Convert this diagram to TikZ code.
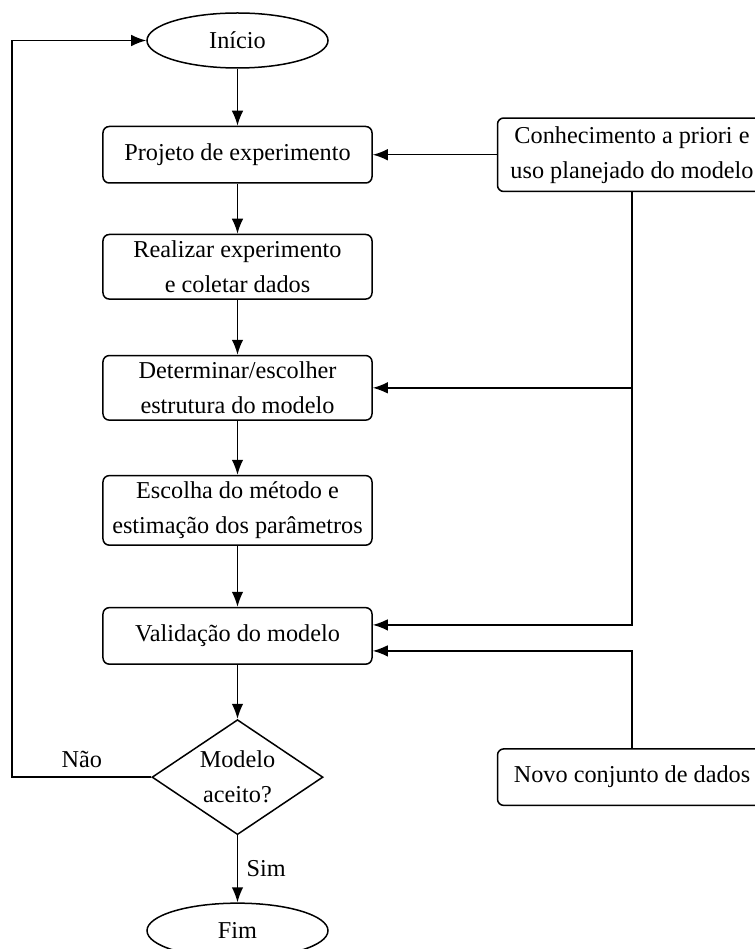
\documentclass[tikz,border=0pt]{standalone}
\usepackage{fontspec}
\setmainfont{Liberation Serif}
\usetikzlibrary{arrows.meta,positioning,shapes.geometric}

\begin{document}
\begin{tikzpicture}[
            font=\fontsize{9.7pt}{14pt}\selectfont,
            >={Latex[length=6pt,width=4.6pt]},
            every path/.style={semithick},
            etapa/.style={draw,rectangle,rounded corners=2.5pt,align=center,minimum width=107.6pt,minimum height=22.6pt,inner ysep=2.5pt},
            terminal/.style={draw,ellipse,minimum width=72.4pt,minimum height=22pt},
            teste/.style={draw,diamond,aspect=1.5,inner sep=0pt,align=center,minimum width=68.4pt,minimum height=46pt}
          ]
          \useasboundingbox (-95pt,16.2pt) rectangle (207pt,-363.4pt);

          %fluxo principal
          \node[terminal] (inicio) at (0,0) {Início};
          \node[etapa,below=22.8pt of inicio] (projeto) {Projeto de experimento};
          \node[etapa,below=20pt of projeto] (realizar) {Realizar experimento\\e coletar dados};
          \node[etapa,below=22pt of realizar] (estrutura) {Determinar/escolher\\estrutura do modelo};
          \node[etapa,below=21.6pt of estrutura] (metodo) {Escolha do método e\\estimação dos parâmetros};
          \node[etapa,below=24.4pt of metodo] (validacao) {Validação do modelo};
          \node[teste,below=21.6pt of validacao] (aceito) {Modelo\\aceito?};
          \node[terminal,below=26.8pt of aceito] (fim) {Fim};

          %entradas externas
          \node[etapa,right=49.6pt of projeto,inner ysep=3.3pt] (conhecimento) {Conhecimento a priori e\\uso planejado do modelo};
          \node[etapa] (novos) at (conhecimento |- aceito) {Novo conjunto de dados};

          \coordinate (volta) at ([xshift=-55.6pt]aceito.west);

          \draw[->] (inicio) -- (projeto);
          \draw[->] (projeto) -- (realizar);
          \draw[->] (realizar) -- (estrutura);
          \draw[->] (estrutura) -- (metodo);
          \draw[->] (metodo) -- (validacao);
          \draw[->] (validacao) -- (aceito);
          \draw[->] (aceito) -- node[right] {Sim} (fim);
          \draw[->] (aceito.west) -- node[above] {Não} (volta) |- (inicio.west);

          \draw[->] (conhecimento) -- (projeto);
          \draw[->] (conhecimento.south |- estrutura.east) -- (estrutura.east);
          \draw[->] (conhecimento.south) |- ([yshift=4.4pt]validacao.east);
          \draw[->] (novos.north) |- ([yshift=-6pt]validacao.east);

      \end{tikzpicture}
\end{document}
